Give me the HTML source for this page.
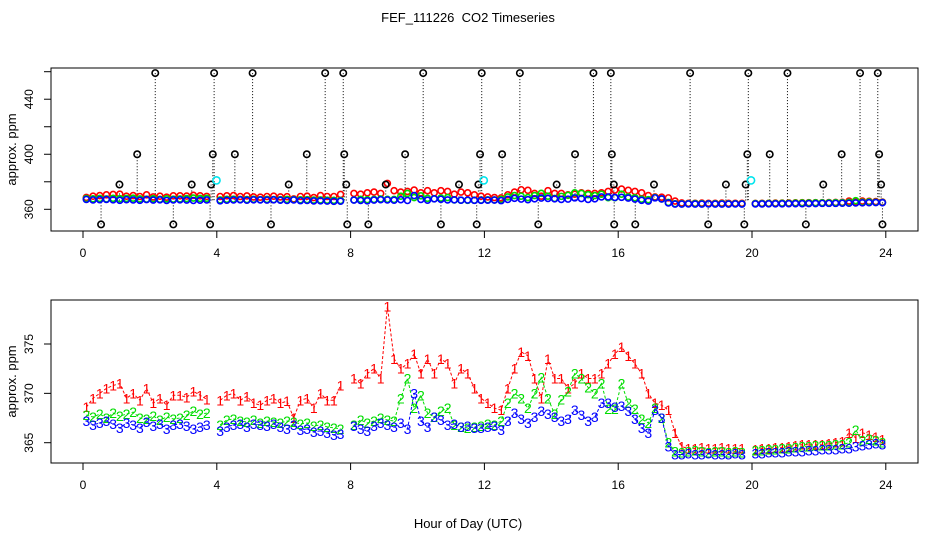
<!DOCTYPE html>
<html><head><meta charset="utf-8"><style>
html,body{margin:0;padding:0;background:#fff}
svg{display:block;font-family:"Liberation Sans",sans-serif}
</style></head><body>
<svg id="chart" width="936" height="540" viewBox="0 0 936 540">
<text x="468" y="22" text-anchor="middle" font-size="13" style="white-space:pre">FEF_111226  CO2 Timeseries</text>
<text x="468" y="528" text-anchor="middle" font-size="13">Hour of Day (UTC)</text>
<g id="topPanel"></g>
<g id="botPanel"></g>
</svg>
<script>
const hourStart = 0.1, hourStep = 0.2;
const series1 = [368.6,369.5,370,370.5,370.8,371,369.5,370,369.3,370.5,369,369.5,368.8,369.8,369.8,369.6,370.2,369.8,369.4,null,
369.3,369.8,370,369.3,369.7,369,368.8,369.3,369.5,369,369.2,367.5,369.3,369.5,368.5,370,369.3,369.3,370.8,null,
371.5,371,372,372.5,371.5,378.8,373.5,372.5,373,374,372,373.5,372,373.5,373,371,372.5,372,370.5,369.5,
369,368.5,368.3,370.5,372.5,374.2,373.8,371.5,369.5,373.5,371.5,371.5,370.5,371,372,371.5,371.5,372,373,374,
374.7,373.8,373,372,370,369,368.8,368.3,366,364.6,364.4,364.4,364.5,364.4,364.4,364.5,364.4,364.4,364.4,null,
364.3,364.4,364.4,364.5,364.5,364.6,364.7,364.8,364.8,364.8,364.8,364.9,365,365.1,366,365.5,366,365.8,365.6,365.3];
const series2 = [367.8,367.6,367.9,367.5,368,367.7,367.9,368.1,367.5,367.4,367.7,367.3,367.6,367.4,367.5,367.8,368.2,367.9,368,null,
366.8,367.3,367.4,367.2,367.1,367.3,367,367.2,367.1,367,367.2,367.1,366.9,367,366.7,366.8,366.6,366.5,366.4,null,
366.8,367.3,367,367.2,367.5,367.3,367.2,369.5,371.5,368.5,369.8,368,367.6,368.2,368.5,366.8,366.6,366.5,366.6,366.7,
366.9,366.8,367.2,369,370,369.5,368.5,370,371.6,369.5,367.9,369.4,370.2,372,371.5,370.6,370,371,368.4,368.4,
371,369,368.4,367.4,367,368.5,367.5,365,364.1,364,364.1,364.2,364.1,364,364.1,364.1,364,364.1,364,null,
364.2,364.2,364.3,364.3,364.4,364.4,364.5,364.6,364.6,364.7,364.7,364.7,364.8,364.8,365,366.3,365.2,365.4,365.2,365];
const series3 = [367.2,366.8,367,367.2,366.9,366.5,367,366.8,366.5,367.1,366.7,366.9,366.4,366.8,366.9,366.7,366.4,366.6,366.8,null,
366.2,366.6,366.8,366.9,366.6,366.9,366.8,366.7,366.9,366.6,366.4,366.8,366.3,366.4,366.1,366.2,366,365.8,365.9,null,
366.7,366.4,366.2,366.7,367,366.8,366.6,367,366.4,370,367.2,366.6,367.6,367.3,366.8,366.9,366.6,366.7,366.5,366.5,
366.6,366.7,366.3,367.2,368,367.4,367,367.6,368.2,367.9,367.6,367.2,367.4,368.3,367.8,367.2,367.6,369,369,368.6,
368.7,368.2,367.4,366.5,366,368.3,367.5,364.6,363.8,363.8,363.9,363.8,363.8,363.9,363.8,363.8,363.8,363.9,363.8,null,
363.9,363.9,364,364,364,364.1,364.1,364.1,364.2,364.2,364.3,364.3,364.3,364.4,364.4,364.6,364.7,364.8,364.9,364.8];
const outlierHours = [2.16,3.92,5.07,7.24,7.78,10.17,11.92,13.06,15.26,15.78,18.15,19.89,21.06,23.23,23.76,
1.62,3.88,4.54,6.69,7.81,9.63,11.87,12.53,14.71,15.81,19.86,20.53,22.68,23.8,
1.09,3.25,3.83,6.15,7.87,9.05,11.24,11.82,14.16,15.87,17.07,19.22,19.81,22.13,23.86,
0.54,2.7,3.8,5.62,7.9,8.53,10.7,11.77,13.61,15.88,16.51,18.69,19.77,21.61,23.9];
const outlierValues = [459,459,459,459,459,459,459,459,459,459,459,459,459,459,459,
400,400,400,400,400,400,400,400,400,400,400,400,400,400,
378,378,378,378,378,378,378,378,378,378,378,378,378,378,378,
349,349,349,349,349,349,349,349,349,349,349,349,349,349,349];
const cyanHours = [3.99,11.98,19.97];
const cyanValues = [381,381,381];
const xTicks = [0,4,8,12,16,20,24];
const topTicks = [360,380,400,420,440,460];
const topLabels = ["360","","400","","440",""];
const botTicks = [365,370,375];
const botLabels = ["365","370","375"];

const NS = "http://www.w3.org/2000/svg";
const X = h => 83 + h * 33.45;
const yTop = v => 209.3 - (v - 360) * 1.376;
const yBot = v => 442.7 - (v - 365) * 9.87;
const LEFT = 51, RIGHT = 918;
function mk(parent, tag, attrs, text){
  const e = document.createElementNS(NS, tag);
  for (const k in attrs) e.setAttribute(k, attrs[k]);
  if (text !== undefined) e.textContent = text;
  parent.appendChild(e); return e;
}
function frame(g, y0, y1, yf, ticks, labels, prefix){
  const box = mk(g,'rect',{x:LEFT,y:y0,width:RIGHT-LEFT,height:y1-y0,fill:'none',stroke:'#000','stroke-width':1});
  
  
  xTicks.forEach(t=>{
    const tl = mk(g,'line',{x1:X(t),x2:X(t),y1:y1,y2:y1+7,stroke:'#000'});
    
    
    const tx = mk(g,'text',{x:X(t),y:y1+26,'text-anchor':'middle','font-size':12}, String(t));
    
    
  });
  ticks.forEach((t,i)=>{
    const y = yf(t);
    const tl = mk(g,'line',{x1:44,x2:LEFT,y1:y,y2:y,stroke:'#000'});
    
    
    if (labels[i]) {
      const tx = mk(g,'text',{x:0,y:0,'text-anchor':'middle','font-size':12,transform:'translate(33,'+y+') rotate(-90)'}, labels[i]);
      
      
    }
  });
  const at = mk(g,'text',{x:0,y:0,'text-anchor':'middle','font-size':13,transform:'translate(16,'+((y0+y1)/2)+') rotate(-90)'}, 'approx. ppm');
  
  
}
const topG = document.getElementById('topPanel');
const botG = document.getElementById('botPanel');
frame(topG, 68, 231, yTop, topTicks, topLabels, 'top');
frame(botG, 300, 463, yBot, botTicks, botLabels, 'bottom');

outlierHours.forEach((h,i)=>{
  const ln = mk(topG,'line',{x1:X(h),x2:X(h),y1:yTop(outlierValues[i]),y2:yTop(366),stroke:'#000','stroke-dasharray':'1,2','stroke-width':1});
  
  
});
const colors = ['#ff0000','#00dd00','#0000ff'];
const all = [series1, series2, series3];
all.forEach((s,si)=>{
  s.forEach((v,i)=>{
    if (v === null) return;
    const c = mk(topG,'circle',{cx:X(hourStart+i*hourStep),cy:yTop(v),r:3,fill:'none',stroke:colors[si],'stroke-width':1.6});
    
    
  });
});
outlierHours.forEach((h,i)=>{
  const c = mk(topG,'circle',{cx:X(h),cy:yTop(outlierValues[i]),r:3.2,fill:'none',stroke:'#000','stroke-width':1.6});
  
  
});
cyanHours.forEach((h,i)=>{
  const c = mk(topG,'circle',{cx:X(h),cy:yTop(cyanValues[i]),r:3.6,fill:'none',stroke:'#00e5ee','stroke-width':1.6});
  
  
});

all.forEach((s,si)=>{
  let d = '', pen = false;
  s.forEach((v,i)=>{
    if (v === null) { pen = false; return; }
    d += (pen ? 'L' : 'M') + X(hourStart+i*hourStep).toFixed(1) + ' ' + yBot(v).toFixed(1) + ' ';
    pen = true;
  });
  const p = mk(botG,'path',{d:d,fill:'none',stroke:colors[si],'stroke-width':1,'stroke-dasharray':'3,2'});
  
  
});
all.forEach((s,si)=>{
  s.forEach((v,i)=>{
    if (v === null) return;
    const t = mk(botG,'text',{x:X(hourStart+i*hourStep),y:yBot(v)+5,'text-anchor':'middle','font-size':14,fill:colors[si]}, String(si+1));
    
    
  });
});
</script>
</body></html>
